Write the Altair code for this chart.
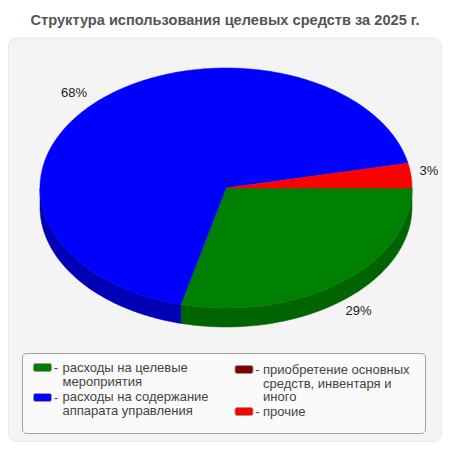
import math
import altair as alt
import pandas as pd

TITLE = "Структура использования целевых средств за 2025 г."
categories = ["расходы на целевые мероприятия", "расходы на содержание аппарата управления",
              "приобретение основных средств, инвентаря и иного", "прочие"]
shares = [28.9, 67.8, 0.0, 3.3]
top_colors = ["#008000", "#0000ff", "#800000", "#ff0000"]
side_colors = ["#006400", "#0000b4", "#5a0000", "#b40000"]

# label anchor points of the non-empty slices
label_text = ["29%", "68%", "3%"]
label_x = [358.5, 74, 429]
label_y = [310.5, 92.5, 170.5]

# legend rows
swatch_x = [33.5, 33.5, 235, 235]
swatch_y = [367.5, 397.5, 369.5, 411.5]
legend_lines = ["расходы на целевые", "мероприятия", "расходы на содержание", "аппарата управления",
                "приобретение основных", "средств, инвентаря и", "иного", "прочие"]
legend_line_x = [62.5, 62.5, 62.5, 62.5, 263, 263, 263, 263]
legend_line_y = [368, 382, 397, 411, 370, 383.5, 397, 411.5]

CX, CY, RX, RY, DEPTH = 226.0, 188.0, 186.0, 120.0, 19.0

xs = alt.Scale(domain=[8, 442], range=[0, 434], nice=False, zero=False)
ys = alt.Scale(domain=[8, 442], range=[0, 434], nice=False, zero=False)
X = lambda f: alt.X(f, type="quantitative", scale=xs, axis=None)
Y = lambda f: alt.Y(f, type="quantitative", scale=ys, axis=None)


def box(x0, y0, x1, y1, fill, stroke, radius):
    d = pd.DataFrame([{"x": x0, "x2": x1, "y": y0, "y2": y1}])
    return alt.Chart(d).mark_rect(fill=fill, stroke=stroke, strokeWidth=1, cornerRadius=radius).encode(
        x=X("x"), x2="x2", y=Y("y"), y2="y2")


def polygon(rows, col):
    for i, r in enumerate(rows):
        r["i"] = i
    return alt.Chart(pd.DataFrame(rows)).mark_line(fill=col, stroke=col, strokeWidth=0.5).encode(
        x=X("x"), y=Y("y"), order="i:Q")


layers = [box(8.5, 38, 441.5, 441.5, "#f4f4f4", "#e8e8e8", 8)]

start = 0.0
spans = []
for s in shares:
    spans.append((start, start + s * 3.6))
    start += s * 3.6

# side wall: the lower half of the rim
for (a0, a1), col, s in zip(spans, side_colors, shares):
    lo, hi = max(a0, 0), min(a1, 180)
    if s == 0 or hi <= lo:
        continue
    n = max(int(hi - lo), 2)
    angles = [math.radians(lo + (hi - lo) * i / n) for i in range(n + 1)]
    upper = [{"x": CX + RX * math.cos(t), "y": CY + RY * math.sin(t)} for t in angles]
    lower = [{"x": CX + RX * math.cos(t), "y": CY + RY * math.sin(t) + DEPTH} for t in reversed(angles)]
    layers.append(polygon(upper + lower + [dict(upper[0])], col))

# top face
for (a0, a1), col, s in zip(spans, top_colors, shares):
    if s == 0:
        continue
    n = max(int(a1 - a0), 2)
    rim = []
    for i in range(n + 1):
        t = math.radians(a0 + (a1 - a0) * i / n)
        rim.append({"x": CX + RX * math.cos(t), "y": CY + RY * math.sin(t)})
    layers.append(polygon([{"x": CX, "y": CY}] + rim + [{"x": CX, "y": CY}], col))

# pie labels
layers.append(alt.Chart(pd.DataFrame({"t": label_text, "x": label_x, "y": label_y})).mark_text(
    font="Liberation Sans", fontSize=13, color="#222222", align="center", baseline="middle", clip=False).encode(
    x=X("x"), y=Y("y"), text="t:N"))

# title
layers.append(alt.Chart(pd.DataFrame({"t": [TITLE], "x": [225], "y": [20.5]})).mark_text(
    font="Liberation Sans", fontSize=14.6, fontWeight="bold", color="#555555", align="center", baseline="middle").encode(
    x=X("x"), y=Y("y"), text="t:N"))

# legend
layers.append(box(22.5, 353.5, 425.5, 433.5, "#fafafa", "#a0a0a0", 4))
sw = pd.DataFrame({"x": swatch_x, "x2": [v + 18 for v in swatch_x],
                   "y": [v - 4 for v in swatch_y], "y2": [v + 4 for v in swatch_y], "c": top_colors})
layers.append(alt.Chart(sw).mark_rect(stroke="#999999", strokeWidth=1, cornerRadius=2).encode(
    x=X("x"), x2="x2", y=Y("y"), y2="y2", fill=alt.Fill("c:N", scale=None)))
dash = pd.DataFrame({"x": [v + 22.5 for v in swatch_x], "y": swatch_y, "t": ["-"] * 4})
layers.append(alt.Chart(dash).mark_text(font="Liberation Sans", fontSize=13, color="#444444",
                                        align="center", baseline="middle").encode(x=X("x"), y=Y("y"), text="t:N"))
leg = pd.DataFrame({"t": legend_lines, "x": legend_line_x, "y": legend_line_y})
layers.append(alt.Chart(leg).mark_text(font="Liberation Sans", fontSize=13, color="#444444",
                                       align="left", baseline="middle").encode(x=X("x"), y=Y("y"), text="t:N"))

chart = alt.layer(*layers).properties(width=434, height=434, padding=0, autosize=alt.AutoSizeParams(type="none"),
                                      background="white").configure_view(stroke=None)
chart.save("out.html", embed_options={"renderer": "svg", "actions": False})
